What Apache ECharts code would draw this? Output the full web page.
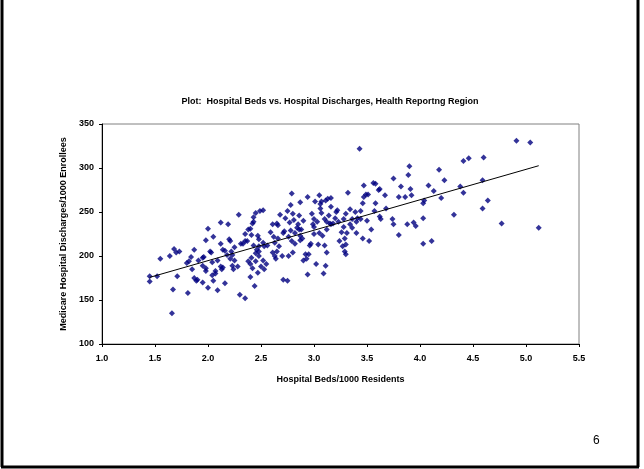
<!DOCTYPE html>
<html>
<head>
<meta charset="utf-8">
<script src="https://cdn.jsdelivr.net/npm/echarts@6/dist/echarts.min.js"></script>
<style>
    html, body { margin: 0; padding: 0; background: #fff; }
    #main { width: 644px; height: 469px; }
</style>
</head>
<body>
<div id="main"></div>
<script>
// beds per 1000 residents
var bedsX = [
    1.45, 1.45, 1.52, 1.55, 1.64, 1.68, 1.70, 1.73, 1.71, 1.67, 1.66, 1.81, 1.80, 1.82, 1.84, 1.87,
    1.85, 1.87, 1.89, 1.90, 1.91, 1.95, 1.95, 1.96, 1.98, 1.98, 1.98, 2.00, 1.95, 2.00, 2.02, 2.03,
    2.04, 2.04, 2.05, 2.05, 2.07, 2.07, 2.09, 2.09, 2.12, 2.12, 2.12, 2.13, 2.14, 2.14, 2.16, 2.16,
    2.18, 2.19, 2.20, 2.21, 2.21, 2.22, 2.23, 2.23, 2.24, 2.25, 2.25, 2.28, 2.29, 2.30, 2.31, 2.33,
    2.35, 2.35, 2.35, 2.37, 2.38, 2.38, 2.40, 2.40, 2.40, 2.41, 2.41, 2.42, 2.42, 2.43, 2.43, 2.43,
    2.44, 2.45, 2.45, 2.45, 2.46, 2.47, 2.47, 2.48, 2.48, 2.49, 2.48, 2.48, 2.50,
    2.52, 2.52, 2.53, 2.52, 2.53, 2.55, 2.56, 2.59, 2.61, 2.61, 2.62, 2.63, 2.63, 2.64, 2.65, 2.65,
    2.66, 2.66, 2.67, 2.68, 2.70, 2.71, 2.71, 2.72, 2.73, 2.75, 2.75, 2.76, 2.76, 2.77, 2.78, 2.78,
    2.79, 2.79, 2.80, 2.80, 2.81, 2.82, 2.82, 2.84, 2.85, 2.86, 2.86, 2.87, 2.87, 2.87, 2.88, 2.89,
    2.90, 2.90, 2.92, 2.93, 2.94, 2.94, 2.95, 2.96, 2.97, 2.98, 2.99, 3.00, 3.00, 3.00, 3.01, 3.02,
    3.03, 3.04, 3.05, 3.05, 3.06, 3.06, 3.07, 3.07, 3.08, 3.09, 3.10, 3.10, 3.11, 3.11, 3.12, 3.12,
    3.12, 3.13, 3.14, 3.15, 3.16, 3.16, 3.16, 3.18, 3.20, 3.21, 3.22, 3.23, 3.24, 3.26, 3.27, 3.28,
    3.28, 3.29, 3.29, 3.30, 3.30, 3.30, 3.31, 3.32, 3.34, 3.34, 3.36, 3.36, 3.39, 3.40, 3.40, 3.41,
    3.43, 3.44, 3.44, 3.46, 3.46, 3.47, 3.47, 3.49, 3.50, 3.51, 3.52, 3.54, 3.56, 3.57, 3.58, 3.58,
    3.61, 3.62, 3.62, 3.63, 3.67, 3.68, 3.74, 3.75, 3.75, 3.80, 3.80, 3.82, 3.86, 3.88, 3.89, 3.90,
    3.91, 3.92, 3.94, 3.96,
    4.03, 4.03, 4.03, 4.04, 4.08, 4.11, 4.13, 4.18, 4.20, 4.23, 4.32, 4.38, 4.41, 4.41, 4.46, 4.59,
    4.59, 4.60, 4.64, 4.77, 4.91, 5.04, 5.12
];

// medicare discharges per 1000 enrollees
var dischargesY = [
    171, 177, 177, 197, 200, 208, 204, 205, 177, 162, 135, 158, 192, 194, 199, 207,
    185, 175, 172, 173, 195, 198, 189, 199, 183, 218, 186, 231, 170, 164, 205, 204,
    193, 178, 172, 222, 183, 180, 195, 161, 238, 214, 188, 185, 207, 187, 206, 169,
    201, 236, 219, 197, 217, 205, 201, 189, 185, 210, 195, 188, 247, 156, 214, 214,
    225, 152, 217, 217, 230, 194, 231, 191, 176, 198, 224, 186, 237, 239, 244, 212,
    166, 249, 203, 194, 207, 223, 181, 219, 211, 251, 205, 200, 188,
    252, 215, 211, 195, 185, 191, 212, 227, 204, 236, 222, 200, 215, 197, 205, 237,
    235, 220, 211, 247, 200, 173, 226, 228, 243, 172, 251, 200, 222, 238, 229, 258,
    271, 217, 204, 248, 241, 226, 214, 232, 236, 246, 230, 261, 223, 218, 230, 220,
    240, 195, 202, 197, 267, 179, 202, 212, 214, 248, 236, 225, 242, 233, 262, 191,
    239, 213, 269, 226, 254, 259, 249, 262, 223, 180, 212, 242, 263, 189, 239, 204,
    230, 265, 246, 237, 266, 236, 256, 237, 243, 250, 252, 239, 217, 227, 211, 233,
    242, 220, 205, 202, 248, 213, 226, 272, 253, 236, 242, 232, 250, 226, 239, 243,
    322, 251, 242, 220, 260, 280, 267, 270, 240, 270, 217, 230, 283, 251, 282, 260,
    275, 276, 245, 242, 269, 254, 242, 288, 236, 267, 224, 279, 267, 236, 292, 302,
    276, 269, 238, 234,
    243, 214, 260, 263, 280, 217, 274, 298, 266, 286, 247, 279, 308, 272, 311, 286,
    254, 312, 263, 237, 331, 329, 232
];

// trend line ends
var trendX = [1.45, 5.12];
var trendY = [175.7, 302.6];

var xTicks = { min: 1.0, max: 5.5, step: 0.5 };
var yTicks = { min: 100, max: 350, step: 50 };

var titleText = 'Plot:  Hospital Beds vs. Hospital Discharges, Health Reportng Region';
var xName = 'Hospital Beds/1000 Residents';
var yName = 'Medicare Hospital Discharges/1000 Enrollees';
var pageNum = '6';

var points = [];
for (var i = 0; i < bedsX.length; i++) {
    points.push([bedsX[i], dischargesY[i]]);
}
var trend = [[trendX[0], trendY[0]], [trendX[1], trendY[1]]];

var font = 'Liberation Sans, Arial, sans-serif';
var chart = echarts.init(document.getElementById('main'), null, { renderer: 'canvas' });

var option = {
    backgroundColor: '#ffffff',
    animation: false,
    title: {
        text: titleText,
        left: 325,
        top: 92,
        textAlign: 'center',
        textStyle: { fontFamily: font, fontSize: 9, fontWeight: 'bold', color: '#000' }
    },
    grid: {
        left: 102,
        right: 65,
        top: 124,
        bottom: 125,
        show: true,
        borderColor: '#808080',
        borderWidth: 1,
        backgroundColor: '#ffffff'
    },
    xAxis: {
        type: 'value',
        min: xTicks.min,
        max: xTicks.max,
        interval: xTicks.step,
        name: xName,
        nameLocation: 'middle',
        nameGap: 31,
        nameTextStyle: { fontFamily: font, fontSize: 9, fontWeight: 'bold', color: '#000' },
        axisLine: { show: true, lineStyle: { color: '#000', width: 1 } },
        axisTick: { show: true, inside: false, length: 3, lineStyle: { color: '#000' } },
        axisLabel: {
            fontFamily: font, fontSize: 9, fontWeight: 'bold', color: '#000', margin: 10,
            formatter: function (v) { return v.toFixed(1); }
        },
        splitLine: { show: false }
    },
    yAxis: {
        type: 'value',
        min: yTicks.min,
        max: yTicks.max,
        interval: yTicks.step,
        name: yName,
        nameLocation: 'middle',
        nameGap: 29,
        nameTextStyle: { fontFamily: font, fontSize: 9, fontWeight: 'bold', color: '#000' },
        axisLine: { show: true, lineStyle: { color: '#000', width: 1 } },
        axisTick: { show: true, inside: false, length: 3, lineStyle: { color: '#000' } },
        axisLabel: { fontFamily: font, fontSize: 9, fontWeight: 'bold', color: '#000', margin: 8 },
        splitLine: { show: false }
    },
    series: [
        {
            name: 'regions',
            type: 'scatter',
            data: points,
            symbol: 'diamond',
            symbolSize: 6,
            itemStyle: { color: '#000080' },
            z: 2
        },
        {
            name: 'trend',
            type: 'line',
            data: trend,
            symbol: 'none',
            lineStyle: { color: '#000', width: 1 },
            z: 3
        }
    ],
    graphic: [
        // slide frame
        { type: 'line', shape: { x1: 2, y1: 0, x2: 2, y2: 467 }, style: { stroke: '#000', lineWidth: 3 } },
        { type: 'line', shape: { x1: 638, y1: 0, x2: 638, y2: 467 }, style: { stroke: '#000', lineWidth: 3 } },
        { type: 'line', shape: { x1: 1, y1: 467, x2: 639, y2: 467 }, style: { stroke: '#000', lineWidth: 3 } },
        {
            type: 'text', left: 593, top: 435,
            style: { text: pageNum, fontFamily: font, fontSize: 12, fill: '#000' }
        }
    ]
};

chart.setOption(option);
</script>
</body>
</html>
